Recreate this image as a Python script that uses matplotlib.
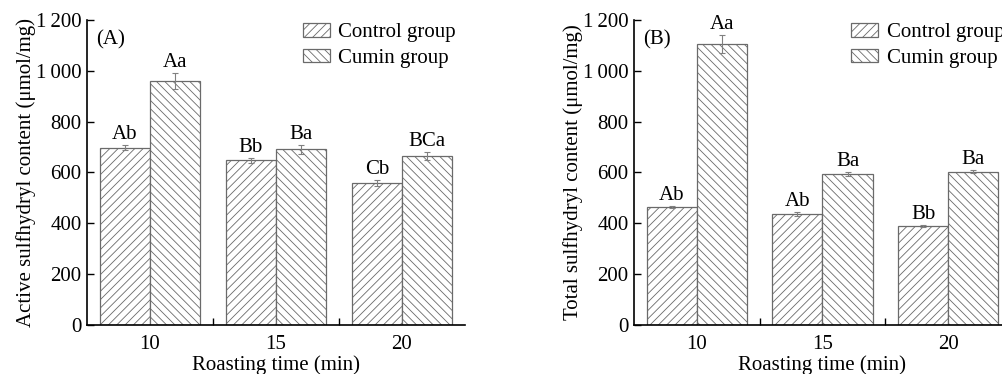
import numpy as np
import matplotlib.pyplot as plt

plt.rcParams['font.family'] = ['Liberation Serif', 'DejaVu Serif']
plt.rcParams['hatch.linewidth'] = 0.6
plt.rcParams['hatch.color'] = '#a0a0a0'

# data
times = ['10', '15', '20']
series = ['Control group', 'Cumin group']

active_ctrl = [698, 648, 558]
active_ctrl_err = [10, 10, 12]
active_cumin = [960, 692, 665]
active_cumin_err = [33, 18, 15]
active_ctrl_lbl = ['Ab', 'Bb', 'Cb']
active_cumin_lbl = ['Aa', 'Ba', 'BCa']

total_ctrl = [465, 435, 390]
total_ctrl_err = [4, 8, 5]
total_cumin = [1105, 593, 603]
total_cumin_err = [36, 8, 5]
total_ctrl_lbl = ['Ab', 'Ab', 'Bb']
total_cumin_lbl = ['Aa', 'Ba', 'Ba']

yticks = [0, 200, 400, 600, 800, 1000, 1200]
ytick_labels = ['0', '200', '400', '600', '800', '1\u2009000', '1\u2009200']

fig = plt.figure(figsize=(10.03, 3.74), dpi=100)
W, H = 1003.0, 374.0
# axes rectangles in pixels: left, bottom, width, height
ax1 = fig.add_axes([87 / W, (H - 325) / H, 378 / W, 305 / H])
ax2 = fig.add_axes([634 / W, (H - 325) / H, 377 / W, 305 / H])

width = 0.4
fs = 15


def draw(ax, ctrl, ctrl_err, cumin, cumin_err, ctrl_lbl, cumin_lbl, ylabel, tag, leg_x):
    x = np.arange(1, len(times) + 1)
    ekw = dict(ecolor='#808080', elinewidth=0.8, capsize=2.5, capthick=0.8)
    ax.bar(x - width / 2, ctrl, width, yerr=ctrl_err, hatch='////',
           facecolor='white', edgecolor='#6a6a6a', linewidth=0.9,
           error_kw=ekw, label=series[0])
    ax.bar(x + width / 2, cumin, width, yerr=cumin_err, hatch='\\\\\\\\',
           facecolor='white', edgecolor='#6a6a6a', linewidth=0.9,
           error_kw=ekw, label=series[1])
    for xi, v, e, t in zip(x - width / 2, ctrl, ctrl_err, ctrl_lbl):
        ax.text(xi, v + e + 4, t, ha='center', va='bottom', fontsize=fs)
    for xi, v, e, t in zip(x + width / 2, cumin, cumin_err, cumin_lbl):
        ax.text(xi, v + e + 4, t, ha='center', va='bottom', fontsize=fs)

    ax.set_xlim(0.5, 3.5)
    ax.set_ylim(0, 1200)
    ax.set_xticks(x)
    ax.set_xticklabels(times, fontsize=fs)
    ax.set_xticks([1.5, 2.5], minor=True)
    ax.tick_params(axis='x', which='major', length=0, pad=7)
    ax.tick_params(axis='x', which='minor', direction='in', length=5, width=1)
    ax.set_yticks(yticks)
    ax.set_yticklabels(ytick_labels, fontsize=fs)
    ax.tick_params(axis='y', direction='in', length=5, width=1, pad=4)
    ax.spines['top'].set_visible(False)
    ax.spines['right'].set_visible(False)
    ax.spines['left'].set_linewidth(1.2)
    ax.spines['bottom'].set_linewidth(1.2)
    ax.set_xlabel('Roasting time (min)', fontsize=fs, labelpad=1)
    ax.set_ylabel(ylabel, fontsize=fs, labelpad=0)
    ax.text(0.025, 0.935, tag, transform=ax.transAxes, fontsize=fs, va='center')
    ax.legend(loc='upper left', bbox_to_anchor=(leg_x, 0.99), frameon=False,
              fontsize=fs, handlelength=1.3, handleheight=0.65,
              handletextpad=0.4, labelspacing=0.3, borderpad=0, borderaxespad=0)


draw(ax1, active_ctrl, active_ctrl_err, active_cumin, active_cumin_err,
     active_ctrl_lbl, active_cumin_lbl, 'Active sulfhydryl content (\u03bcmol/mg)', '(A)', 0.571)
draw(ax2, total_ctrl, total_ctrl_err, total_cumin, total_cumin_err,
     total_ctrl_lbl, total_cumin_lbl, 'Total sulfhydryl content (\u03bcmol/mg)', '(B)', 0.576)

plt.savefig('out.png', dpi=100)
